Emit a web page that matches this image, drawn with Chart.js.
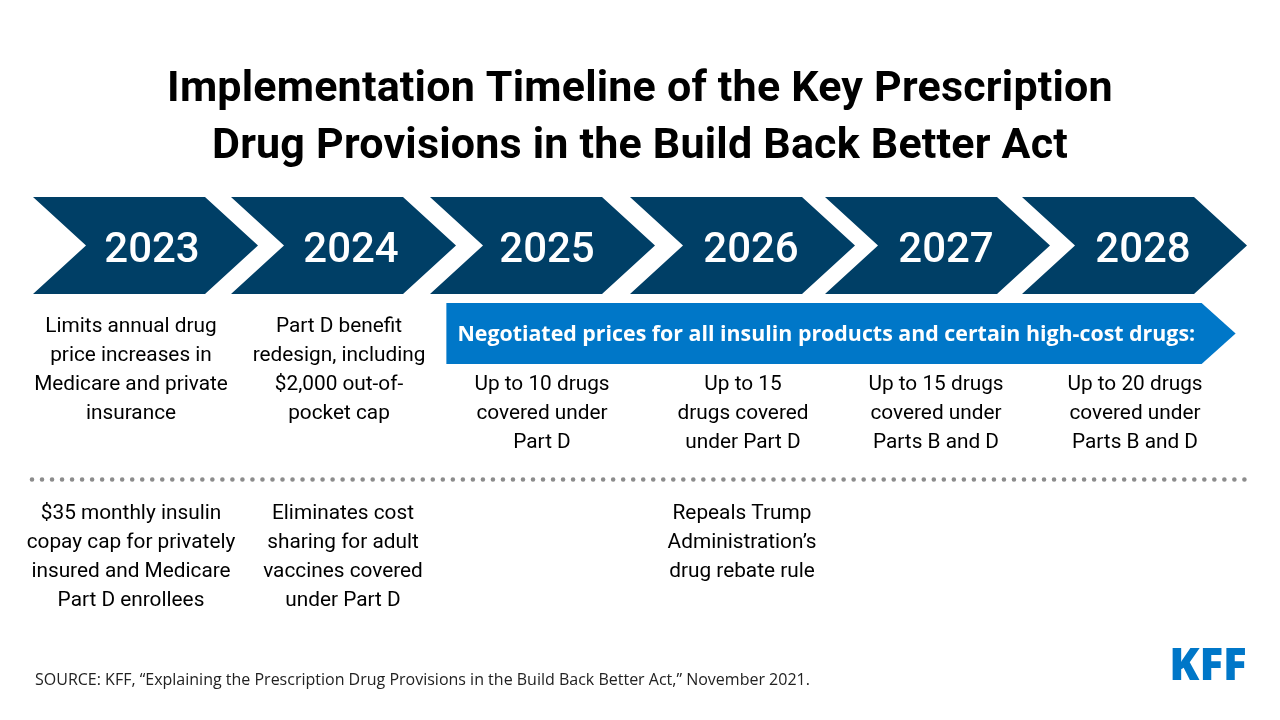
<!DOCTYPE html>
<html>
<head>
<meta charset="utf-8">
<title>Build Back Better timeline</title>
<script src="https://cdn.jsdelivr.net/npm/chart.js@4/dist/chart.umd.js"></script>
<style>
html,body{margin:0;padding:0;background:#fff}
#wrap{width:1280px;height:720px}
</style>
</head>
<body>
<div id="wrap"><canvas id="timeline" width="1280" height="720"></canvas></div>
<script>
/* DATA */
const titleLines = ["Implementation Timeline of the Key Prescription","Drug Provisions in the Build Back Better Act"]
const years = [2023,2024,2025,2026,2027,2028]
const arrowLabel = "Negotiated prices for all insulin products and certain high-cost drugs:"
const arrowSpan = [2025.09,2029.08]
const upperNotes = [
  ["Limits annual drug","price increases in","Medicare and private","insurance"],
  ["Part D benefit","redesign, including","$2,000 out-of-","pocket cap"],
  ["Up to 10 drugs","covered under","Part D"],
  ["Up to 15","drugs covered","under Part D"],
  ["Up to 15 drugs","covered under","Parts B and D"],
  ["Up to 20 drugs","covered under","Parts B and D"]
]
const lowerNotes = [
  ["$35 monthly insulin","copay cap for privately","insured and Medicare","Part D enrollees"],
  ["Eliminates cost","sharing for adult","vaccines covered","under Part D"],
  [],
  ["Repeals Trump","Administration’s","drug rebate rule"],
  [],
  []
]
const sourceText = "SOURCE: KFF, “Explaining the Prescription Drug Provisions in the Build Back Better Act,” November 2021."
const logoText = "KFF"

/* LAYOUT (pixels per year, hand nudges so the arrows sit like the original) */
const yearPx = 197.8
const chevronYears = 225/yearPx
const yearNudge = [0,0.2,1.4,3.6,0.8,0]
const yearLabelOffset = [119,120,117,121,121,121]
const upperOffset = [98,108,112,113,111,113]
const lowerOffset = [98,112,0,112,0,0]
const rows = {chevron:245.5,arrow:333.5,rule:479.5,upper:327,arrowNotes:385,lower:514}
const lineGap = 29

const xMin = 2023-33/yearPx
const xMax = xMin+1280/yearPx
const starts = years.map((y,i)=>y+yearNudge[i]/yearPx)

/* bars are drawn as arrows: notch on the left, point on the right */
const arrowBars = {
  id:"arrowBars",
  beforeDatasetDraw(chart,args){
    let ds = args.meta.controller.getDataset()
    if(ds.type!=="bar") return
    let ctx = chart.ctx
    args.meta.data.forEach(el=>{
      let p = el.getProps(["x","y","base","height"],true)
      let left = Math.min(p.base,p.x), right = Math.max(p.base,p.x)
      let top = p.y-p.height/2, bottom = p.y+p.height/2
      ctx.save()
      ctx.fillStyle = el.options.backgroundColor
      ctx.beginPath()
      ctx.moveTo(left,top)
      ctx.lineTo(right-ds.tip,top)
      ctx.lineTo(right,p.y)
      ctx.lineTo(right-ds.tip,bottom)
      ctx.lineTo(left,bottom)
      ctx.lineTo(left+ds.notch,p.y)
      ctx.closePath()
      ctx.fill()
      ctx.restore()
    })
    return false
  }
}

function put(ctx,text,x,y,font,color,align,spacing){
  ctx.font = font
  ctx.fillStyle = color
  ctx.textAlign = align||"center"
  ctx.textBaseline = "middle"
  ctx.letterSpacing = spacing||"0px"
  ctx.fillText(text,x,y)
}

const textLayer = {
  id:"textLayer",
  afterDraw(chart){
    let ctx = chart.ctx, xs = chart.scales.x, ys = chart.scales.y
    let bodyFont = "400 20.8px Roboto"
    ctx.save()
    titleLines.forEach((t,i)=>{
      put(ctx,t,640,90+i*57,"700 43px Roboto","#000","center","0.2px")
    })
    years.forEach((y,i)=>{
      let left = xs.getPixelForValue(starts[i])
      put(ctx,String(y),left+yearLabelOffset[i],ys.getPixelForValue(rows.chevron)+5.5,"500 42px Roboto","#fff")
      let first = i<2 ? rows.upper : rows.arrowNotes
      upperNotes[i].forEach((t,n)=>{
        put(ctx,t,left+upperOffset[i],ys.getPixelForValue(first+n*lineGap),bodyFont,"#000")
      })
      lowerNotes[i].forEach((t,n)=>{
        put(ctx,t,left+lowerOffset[i],ys.getPixelForValue(rows.lower+n*lineGap),bodyFont,"#000")
      })
    })
    put(ctx,arrowLabel,xs.getPixelForValue(arrowSpan[0])+11,ys.getPixelForValue(rows.arrow)+1.5,"700 21.36px 'Open Sans'","#fff","left")
    put(ctx,sourceText,35,680,"400 16px 'Open Sans'","#222","left")
    put(ctx,logoText,1208,667,"800 44px 'Open Sans'","#0077c8")
    ctx.restore()
  }
}

new Chart(document.getElementById("timeline"),{
  data:{
    datasets:[
      {
        type:"bar",
        indexAxis:"y",
        label:"Years",
        data:starts.map(s=>({x:[s,s+chevronYears],y:rows.chevron})),
        backgroundColor:"#003f66",
        barThickness:97,
        grouped:false,
        notch:53,
        tip:53
      },
      {
        type:"bar",
        indexAxis:"y",
        label:"Negotiated prices",
        data:[{x:arrowSpan,y:rows.arrow}],
        backgroundColor:"#0077c8",
        barThickness:61,
        grouped:false,
        notch:0,
        tip:34
      },
      {
        type:"line",
        label:"Divider",
        data:[{x:years[0]-1/yearPx,y:rows.rule},{x:xMin+1245/yearPx,y:rows.rule}],
        borderColor:"#8c8c8c",
        borderWidth:4.6,
        borderDash:[0,10.02],
        borderCapStyle:"round",
        pointRadius:0,
        fill:false
      }
    ]
  },
  options:{
    responsive:false,
    animation:false,
    layout:{padding:0},
    scales:{
      x:{type:"linear",min:xMin,max:xMax,display:false},
      y:{type:"linear",min:0,max:720,reverse:true,offset:false,display:false}
    },
    plugins:{legend:{display:false},title:{display:false},tooltip:{enabled:false}}
  },
  plugins:[arrowBars,textLayer]
})
</script>
</body>
</html>
